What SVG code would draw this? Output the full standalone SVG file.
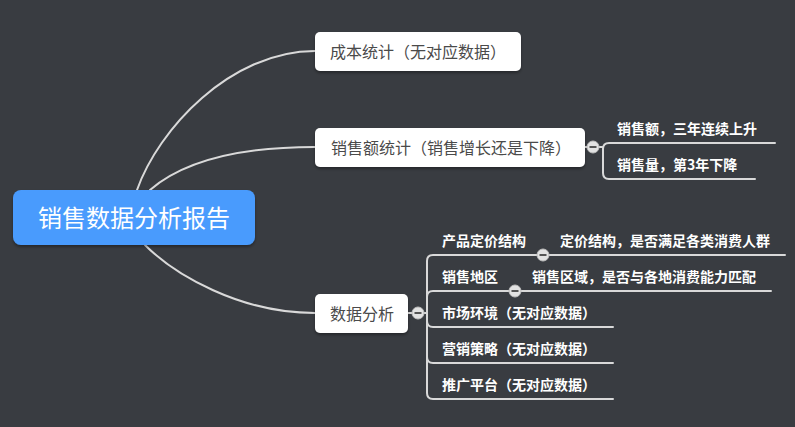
<svg xmlns="http://www.w3.org/2000/svg" width="795" height="427" viewBox="0 0 795 427">
<defs>
<style>
.bg{fill:#393c41}
.conn{fill:none;stroke:#d9d9d9;stroke-width:2;stroke-linecap:round}
.box{fill:#ffffff}
.root{fill:#4a9bfd}
.t1{font-family:"Noto Sans CJK SC","Noto Sans",sans-serif;font-size:16px;fill:#4a4a4a}
.t0{font-family:"Noto Sans CJK SC","Noto Sans",sans-serif;font-size:24px;fill:#ffffff}
.t2{font-family:"Noto Sans CJK SC","Noto Sans",sans-serif;font-size:14px;font-weight:bold;fill:#ffffff}
.col{fill:#e2e2e2;stroke:#bdbdbd;stroke-width:1}
.minus{stroke:#555;stroke-width:2}
</style>
<filter id="sh" x="-10%" y="-20%" width="120%" height="150%">
<feDropShadow dx="0" dy="2" stdDeviation="1.5" flood-color="#000" flood-opacity="0.35"/>
</filter>
</defs>
<rect class="bg" x="0" y="0" width="795" height="427"/>
<g id="connectors">
<path class="conn" d="M137,190 C158,130 230,51 315,51"/>
<path class="conn" d="M150,190 C185,160 240,147 315,147"/>
<path class="conn" d="M145,245 C175,275 240,313 315,313"/>
<path class="conn" d="M585,147 L603,147"/>
<path class="conn" d="M603,147 L603,149 Q603,143 609,143 L775,143"/>
<path class="conn" d="M603,147 L603,173 Q603,179 609,179 L755,179"/>
<path class="conn" d="M408,313 L427,313"/>
<path class="conn" d="M427,313 L427,261 Q427,255 433,255 L785,255"/>
<path class="conn" d="M427,313 L427,297 Q427,291 433,291 L771,291"/>
<path class="conn" d="M427,313 L427,321 Q427,327 433,327 L613,327"/>
<path class="conn" d="M427,313 L427,357 Q427,363 433,363 L613,363"/>
<path class="conn" d="M427,313 L427,393 Q427,399 433,399 L613,399"/>
</g>
<g id="root">
<rect class="root" x="13" y="190" width="242" height="55" rx="8" filter="url(#sh)"/>
<text class="t0" x="134" y="226.5" text-anchor="middle">销售数据分析报告</text>
</g>
<g id="n1">
<rect class="box" x="315" y="32" width="206" height="39" rx="5" filter="url(#sh)"/>
<text class="t1" x="330" y="57.5">成本统计（无对应数据）</text>
</g>
<g id="n2">
<rect class="box" x="315" y="128" width="270" height="39" rx="5" filter="url(#sh)"/>
<text class="t1" x="331" y="153.5">销售额统计（销售增长还是下降）</text>
<circle class="col" cx="593" cy="147" r="6"/>
<line class="minus" x1="589.5" y1="147" x2="596.5" y2="147"/>
</g>
<g id="n2a"><text class="t2" x="617" y="134">销售额，三年连续上升</text></g>
<g id="n2b"><text class="t2" x="617" y="170">销售量，第3年下降</text></g>
<g id="n3">
<rect class="box" x="315" y="294" width="93" height="39" rx="5" filter="url(#sh)"/>
<text class="t1" x="330" y="319.5">数据分析</text>
<circle class="col" cx="418" cy="313" r="6"/>
<line class="minus" x1="414.5" y1="313" x2="421.5" y2="313"/>
</g>
<g id="n3a">
<text class="t2" x="442" y="246">产品定价结构</text>
<circle class="col" cx="543" cy="255" r="6"/>
<line class="minus" x1="539.5" y1="255" x2="546.5" y2="255"/>
</g>
<g id="n3a1"><text class="t2" x="560" y="246">定价结构，是否满足各类消费人群</text></g>
<g id="n3b">
<text class="t2" x="442" y="282">销售地区</text>
<circle class="col" cx="515" cy="291" r="6"/>
<line class="minus" x1="511.5" y1="291" x2="518.5" y2="291"/>
</g>
<g id="n3b1"><text class="t2" x="532" y="282">销售区域，是否与各地消费能力匹配</text></g>
<g id="n3c"><text class="t2" x="442" y="318">市场环境（无对应数据）</text></g>
<g id="n3d"><text class="t2" x="442" y="354">营销策略（无对应数据）</text></g>
<g id="n3e"><text class="t2" x="442" y="390">推广平台（无对应数据）</text></g>
</svg>
